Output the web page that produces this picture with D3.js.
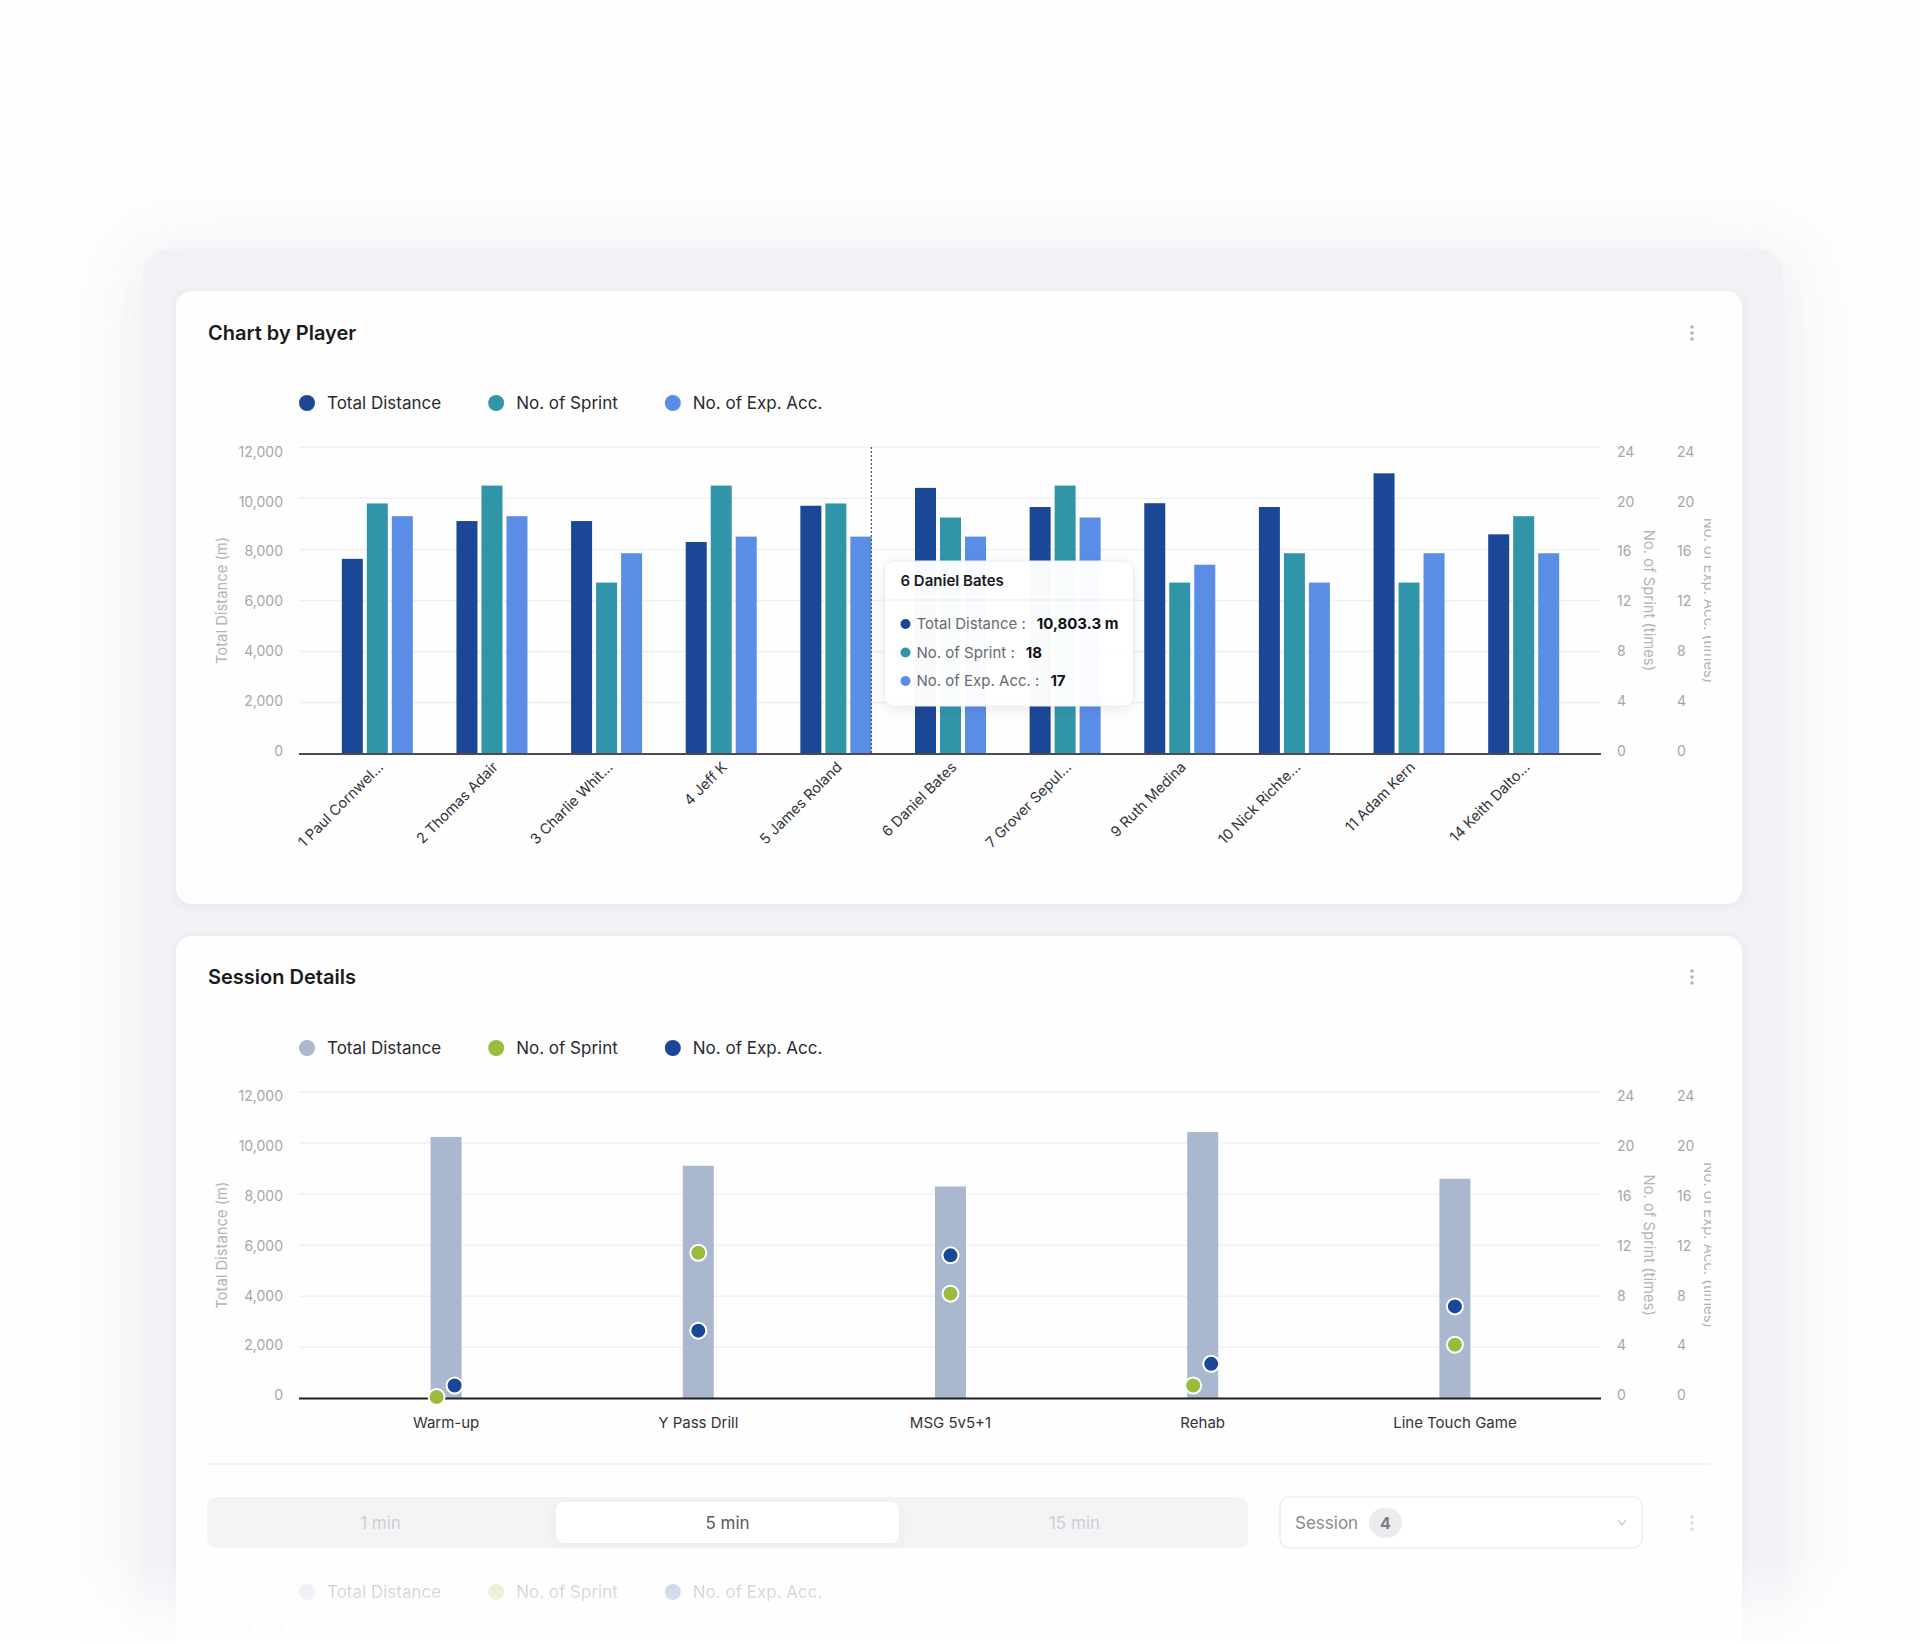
<!DOCTYPE html>
<html>
<head>
<meta charset="utf-8">
<script src="https://cdn.jsdelivr.net/npm/d3@7"></script>
<style>
  html, body { margin: 0; padding: 0; background: #fdfdfe; }
  svg { display: block; font-family: Inter, "Noto Sans", sans-serif; }
</style>
</head>
<body>
<div id="chart"></div>
<script>
// ---- data ----
var players = ["1 Paul Cornwel...", "2 Thomas Adair", "3 Charlie Whit...", "4 Jeff K", "5 James Roland",
  "6 Daniel Bates", "7 Grover Sepul...", "9 Ruth Medina", "10 Nick Richte...", "11 Adam Kern", "14 Keith Dalto..."];
var playerDistance = [7630, 9110, 9110, 8290, 9710, 10410, 9660, 9810, 9660, 10980, 8590];
var playerSprint = [19.6, 21.0, 13.4, 21.0, 19.6, 18.5, 21.0, 13.4, 15.7, 13.4, 18.6];
var playerAcc = [18.6, 18.6, 15.7, 17.0, 17.0, 17.0, 18.5, 14.8, 13.4, 15.7, 15.7];

var sessions = ["Warm-up", "Y Pass Drill", "MSG 5v5+1", "Rehab", "Line Touch Game"];
var sessionDistance = [10240, 9110, 8300, 10430, 8600];
var sessionSprint = [0.1, 11.4, 8.2, 1.0, 4.2];
var sessionAcc = [1.0, 5.3, 11.2, 2.7, 7.2];

var distTicks = [0, 2000, 4000, 6000, 8000, 10000, 12000];
var countTicks = [0, 4, 8, 12, 16, 20, 24];
var seriesNames = ["Total Distance", "No. of Sprint", "No. of Exp. Acc."];

var tooltipPlayer = "6 Daniel Bates";
var tooltipLabels = ["Total Distance :", "No. of Sprint :", "No. of Exp. Acc. :"];
var tooltipValues = ["10,803.3 m", "18", "17"];

var segments = ["1 min", "5 min", "15 min"];
var activeSegment = 1;
var sessionCount = 4;

// ---- colors ----
var c1 = ["#1b4797", "#3195aa", "#5a8de6"];
var c2 = ["#a9b8cf", "#9bbb3e", "#1b4797"];
var tickColor = "#a6a6ad";

var W = 1920, H = 1644;
var svg = d3.select("#chart").append("svg").attr("width", W).attr("height", H);
var defs = svg.append("defs");

var f1 = defs.append("filter").attr("id", "panelShadow").attr("x", -0.2).attr("y", -0.2).attr("width", 1.4).attr("height", 1.4);
f1.append("feDropShadow").attr("dx", 0).attr("dy", 10).attr("stdDeviation", 30).attr("flood-color", "#6b6480").attr("flood-opacity", 0.13);
var f2 = defs.append("filter").attr("id", "cardShadow").attr("x", -0.1).attr("y", -0.1).attr("width", 1.2).attr("height", 1.2);
f2.append("feDropShadow").attr("dx", 0).attr("dy", 2).attr("stdDeviation", 5).attr("flood-color", "#5c5870").attr("flood-opacity", 0.07);
var f3 = defs.append("filter").attr("id", "tipShadow").attr("x", -0.2).attr("y", -0.2).attr("width", 1.4).attr("height", 1.4);
f3.append("feDropShadow").attr("dx", 0).attr("dy", 3).attr("stdDeviation", 6).attr("flood-color", "#000").attr("flood-opacity", 0.08);
defs.append("clipPath").attr("id", "plotClip").append("rect").attr("x", 0).attr("y", 0).attr("width", 1711).attr("height", H);
var fade = defs.append("linearGradient").attr("id", "fade").attr("x1", 0).attr("y1", 0).attr("x2", 0).attr("y2", 1);
fade.append("stop").attr("offset", "0%").attr("stop-color", "#fff").attr("stop-opacity", 0);
fade.append("stop").attr("offset", "100%").attr("stop-color", "#fff").attr("stop-opacity", 0.9);

// outer panel + cards
svg.append("rect").attr("x", 143).attr("y", 249).attr("width", 1640).attr("height", 1500).attr("rx", 24)
  .attr("fill", "#f2f1f6").attr("filter", "url(#panelShadow)");
svg.append("rect").attr("x", 176).attr("y", 291).attr("width", 1566).attr("height", 613).attr("rx", 16)
  .attr("fill", "#fefefe").attr("filter", "url(#cardShadow)");
svg.append("rect").attr("x", 176).attr("y", 936).attr("width", 1566).attr("height", 800).attr("rx", 16)
  .attr("fill", "#fefefe").attr("filter", "url(#cardShadow)");

var x1 = d3.scaleBand().domain(players).range([320, 1581]);
var x2 = d3.scaleBand().domain(sessions).range([320, 1581]);
var sub = d3.scaleBand().domain([0, 1, 2]).range([-37.5, 37.5]).paddingInner(0.16).paddingOuter(0.08);

function header(top, title, menuY) {
  svg.append("text").attr("x", 208).attr("y", top).attr("font-size", 20).attr("font-weight", 600)
    .attr("fill", "#1a1a1e").text(title);
  [-6, 0, 6].forEach(function (d) {
    svg.append("circle").attr("cx", 1692).attr("cy", menuY + d).attr("r", 1.8).attr("fill", "#b4b4bb");
  });
}

function legend(y, colors, opacity) {
  var g = svg.append("g").attr("opacity", opacity);
  var cx = 307;
  seriesNames.forEach(function (name, i) {
    g.append("circle").attr("cx", cx).attr("cy", y).attr("r", 8).attr("fill", colors[i]);
    var t = g.append("text").attr("x", cx + 20).attr("y", y).attr("dy", "0.35em")
      .attr("font-size", 17).attr("fill", "#2a2a2e").text(name);
    cx = cx + 20 + t.node().getComputedTextLength() + 55;
  });
}

function axes(g, top, bottom) {
  var yd = d3.scaleLinear().domain([0, 12000]).range([bottom, top]);
  var yc = d3.scaleLinear().domain([0, 24]).range([bottom, top]);
  // tick labels sit on a slightly tighter span than the grid, as in the original
  var ydLab = yd.copy().range([bottom - 3, top + 4.5]);
  var ycLab = yc.copy().range([bottom - 3, top + 4.5]);

  // grid
  g.append("g").selectAll("line").data(distTicks.slice(1)).enter().append("line")
    .attr("x1", 299).attr("x2", 1601).attr("y1", function (d) { return yd(d); }).attr("y2", function (d) { return yd(d); })
    .attr("stroke", "#f0f0f3").attr("stroke-width", 1.5);

  var aL = g.append("g").attr("transform", "translate(299,0)")
    .call(d3.axisLeft(ydLab).tickValues(distTicks).tickSize(0).tickPadding(16).tickFormat(d3.format(",")));
  var aR1 = g.append("g").attr("transform", "translate(1601,0)")
    .call(d3.axisRight(ycLab).tickValues(countTicks).tickSize(0).tickPadding(16));
  var aR2 = g.append("g").attr("transform", "translate(1661,0)")
    .call(d3.axisRight(ycLab).tickValues(countTicks).tickSize(0).tickPadding(16));
  [aL, aR1, aR2].forEach(function (a) {
    a.select(".domain").remove();
    a.selectAll("text").attr("font-size", 14).attr("fill", tickColor).attr("font-family", "Inter, sans-serif");
  });

  var mid = (top + bottom) / 2;
  g.append("text").attr("transform", "translate(222," + mid + ") rotate(-90)").attr("text-anchor", "middle")
    .attr("dominant-baseline", "central").attr("font-size", 14.8).attr("fill", "#b3b3b9").text("Total Distance (m)");
  g.append("text").attr("transform", "translate(1649," + mid + ") rotate(90)").attr("text-anchor", "middle")
    .attr("dominant-baseline", "central").attr("font-size", 14.8).attr("fill", "#b3b3b9").text("No. of Sprint (times)");
  g.append("text").attr("transform", "translate(1709," + mid + ") rotate(90)").attr("text-anchor", "middle")
    .attr("dominant-baseline", "central").attr("font-size", 14.8).attr("fill", "#b3b3b9").text("No. of Exp. Acc. (times)");

  return { yd: yd, yc: yc };
}

// ================= Chart by Player =================
header(340, "Chart by Player", 333);
legend(403, c1, 1);

var g1 = svg.append("g").attr("clip-path", "url(#plotClip)");
var s1 = axes(g1, 447.3, 753.6);

var vals1 = players.map(function (p, i) { return [playerDistance[i], playerSprint[i], playerAcc[i]]; });
var groups1 = g1.append("g").selectAll("g").data(vals1).enter().append("g")
  .attr("transform", function (d, i) { return "translate(" + (x1(players[i]) + x1.bandwidth() / 2) + ",0)"; });
groups1.selectAll("rect").data(function (d) { return d; }).enter().append("rect")
  .attr("x", function (d, k) { return sub(k); })
  .attr("width", sub.bandwidth())
  .attr("y", function (d, k) { return k === 0 ? s1.yd(d) : s1.yc(d); })
  .attr("height", function (d, k) { return 753.6 - (k === 0 ? s1.yd(d) : s1.yc(d)); })
  .attr("fill", function (d, k) { return c1[k]; });

g1.append("line").attr("x1", 299).attr("x2", 1601).attr("y1", 754).attr("y2", 754)
  .attr("stroke", "#4b4b50").attr("stroke-width", 2);

// x labels rotated
g1.append("g").selectAll("text").data(players).enter().append("text")
  .attr("transform", function (d) { return "translate(" + (x1(d) + x1.bandwidth() / 2 + 7) + ",768) rotate(-45)"; })
  .attr("text-anchor", "end").attr("font-size", 14.5).attr("fill", "#333338").text(function (d) { return d; });

// hover pointer + tooltip
var hoverIdx = players.indexOf(tooltipPlayer);
var px = x1(players[hoverIdx - 1]) + x1.bandwidth() / 2 + sub(2) + sub.bandwidth();
g1.append("line").attr("x1", px).attr("x2", px).attr("y1", 447).attr("y2", 753)
  .attr("stroke", "#55555a").attr("stroke-width", 1.3).attr("stroke-dasharray", "2,2");

var tx = x1(players[hoverIdx]) + x1.bandwidth() / 2 - 66, ty = 561;
var tip = svg.append("g").attr("transform", "translate(" + tx + "," + ty + ")");
tip.append("rect").attr("width", 249).attr("height", 145).attr("rx", 9).attr("fill", "#ffffff").attr("fill-opacity", 0.97)
  .attr("stroke", "#ececef").attr("filter", "url(#tipShadow)");
tip.append("text").attr("x", 16).attr("y", 25).attr("font-size", 15).attr("font-weight", 600).attr("fill", "#1a1a1e").text(tooltipPlayer);
tip.append("line").attr("x1", 0).attr("x2", 249).attr("y1", 39).attr("y2", 39).attr("stroke", "#ececef");
tooltipLabels.forEach(function (lab, i) {
  var ry = 63 + i * 28.5;
  tip.append("circle").attr("cx", 21).attr("cy", ry).attr("r", 5).attr("fill", c1[i]);
  var t = tip.append("text").attr("x", 32).attr("y", ry).attr("dy", "0.35em").attr("font-size", 15)
    .attr("fill", "#6a6a70").text(lab);
  tip.append("text").attr("x", 32 + t.node().getComputedTextLength() + 11).attr("y", ry).attr("dy", "0.35em")
    .attr("font-size", 15).attr("font-weight", 700).attr("fill", "#111114").text(tooltipValues[i]);
});

// ================= Session Details =================
header(984, "Session Details", 977);
legend(1048, c2, 1);

var g2 = svg.append("g").attr("clip-path", "url(#plotClip)");
var s2 = axes(g2, 1092, 1398.3);

g2.append("g").selectAll("rect").data(sessionDistance).enter().append("rect")
  .attr("x", function (d, i) { return x2(sessions[i]) + x2.bandwidth() / 2 - 15.5; })
  .attr("width", 31)
  .attr("y", function (d) { return s2.yd(d); })
  .attr("height", function (d) { return 1398.3 - s2.yd(d); })
  .attr("fill", c2[0]);

g2.append("line").attr("x1", 299).attr("x2", 1601).attr("y1", 1398.5).attr("y2", 1398.5)
  .attr("stroke", "#1f1f24").attr("stroke-width", 2);

var dots = g2.append("g");
sessions.forEach(function (s, i) {
  var cx = x2(s) + x2.bandwidth() / 2;
  var ys = s2.yc(sessionSprint[i]), ya = s2.yc(sessionAcc[i]);
  var near = Math.abs(ys - ya) < 30;
  dots.append("circle").attr("cx", cx - (near ? 9.5 : 0)).attr("cy", ys).attr("r", 8)
    .attr("fill", c2[1]).attr("stroke", "#fff").attr("stroke-width", 2);
  dots.append("circle").attr("cx", cx + (near ? 8.5 : 0)).attr("cy", ya).attr("r", 8)
    .attr("fill", c2[2]).attr("stroke", "#fff").attr("stroke-width", 2);
});

g2.append("g").selectAll("text").data(sessions).enter().append("text")
  .attr("x", function (d) { return x2(d) + x2.bandwidth() / 2; }).attr("y", 1423).attr("dy", "0.35em")
  .attr("text-anchor", "middle").attr("font-size", 15).attr("fill", "#333338").text(function (d) { return d; });

// ================= controls =================
svg.append("line").attr("x1", 207).attr("x2", 1709).attr("y1", 1464).attr("y2", 1464).attr("stroke", "#efeff2").attr("stroke-width", 1.5);

var segW = 1041 / segments.length;
svg.append("rect").attr("x", 207).attr("y", 1497).attr("width", 1041).attr("height", 51).attr("rx", 9).attr("fill", "#f4f4f6");
svg.append("rect").attr("x", 207 + segW * activeSegment + 2).attr("y", 1502).attr("width", segW - 4).attr("height", 41)
  .attr("rx", 8).attr("fill", "#fff").attr("filter", "url(#cardShadow)");
segments.forEach(function (s, i) {
  svg.append("text").attr("x", 207 + segW * (i + 0.5)).attr("y", 1523).attr("dy", "0.35em").attr("text-anchor", "middle")
    .attr("font-size", 17).attr("fill", i === activeSegment ? "#5a5a60" : "#cfcfd5").text(s);
});

svg.append("rect").attr("x", 1280).attr("y", 1497).attr("width", 362).attr("height", 51).attr("rx", 9)
  .attr("fill", "#fff").attr("stroke", "#e8e8ec").attr("stroke-width", 1.2);
svg.append("text").attr("x", 1295).attr("y", 1523).attr("dy", "0.35em").attr("font-size", 17).attr("fill", "#8a8a90").text("Session");
svg.append("rect").attr("x", 1369).attr("y", 1508).attr("width", 33).attr("height", 30).attr("rx", 15).attr("fill", "#ececef");
svg.append("text").attr("x", 1385.5).attr("y", 1523).attr("dy", "0.35em").attr("text-anchor", "middle")
  .attr("font-size", 16).attr("font-weight", 700).attr("fill", "#7a7a80").text(sessionCount);
svg.append("polyline").attr("points", "1618,1520 1622,1525 1626,1520").attr("fill", "none")
  .attr("stroke", "#c0c0c6").attr("stroke-width", 1.2);
[-6, 0, 6].forEach(function (d) {
  svg.append("circle").attr("cx", 1692).attr("cy", 1523 + d).attr("r", 1.8).attr("fill", "#dcdce0");
});

// next (faded) chart peeking at the bottom
legend(1592, c2, 0.3);
svg.append("text").attr("x", 283).attr("y", 1637).attr("text-anchor", "end").attr("font-size", 14)
  .attr("fill", tickColor).attr("opacity", 0.25).text(d3.format(",")(distTicks[6]));

svg.append("rect").attr("x", 0).attr("y", 1555).attr("width", W).attr("height", 89).attr("fill", "url(#fade)");
</script>
</body>
</html>
